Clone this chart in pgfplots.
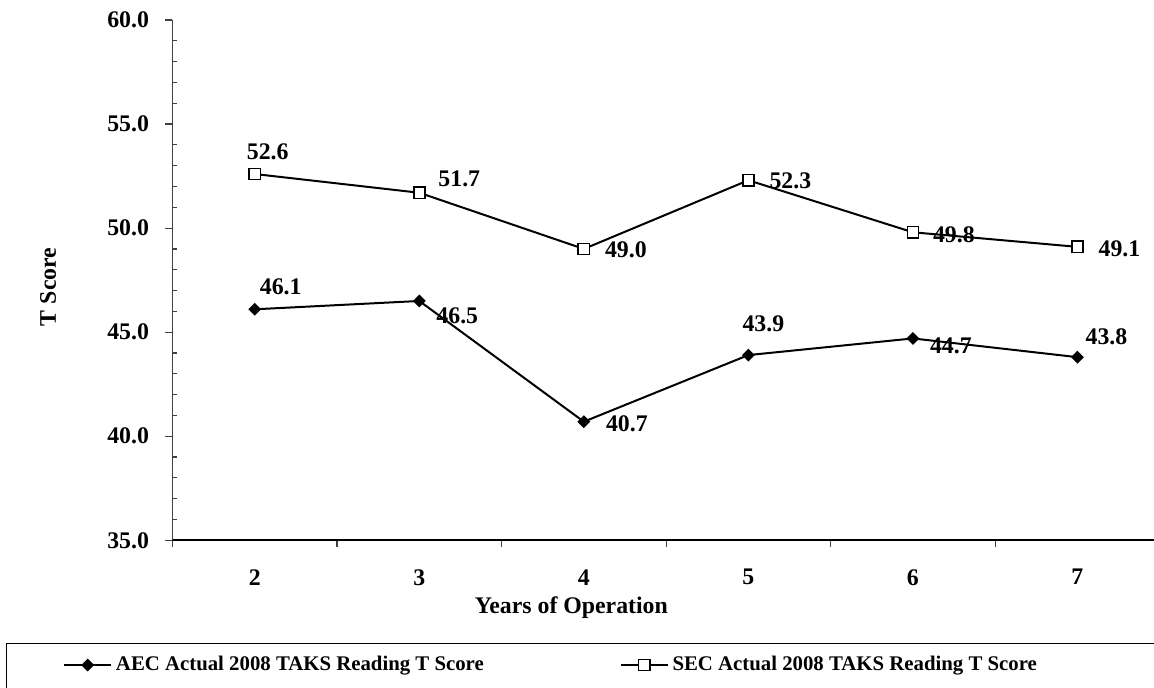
\documentclass[border=0pt]{standalone}
\usepackage{fontspec}
\setmainfont{Liberation Serif}
\usepackage{pgfplots}
\usepackage{pgfplotstable}
\pgfplotsset{compat=1.18}

\pgfplotstableread{
x y dx dy
2 46.1 13 11.5
3 46.5 19 -7.5
4 40.7 21.5 -1
5 43.9 7.5 15.5
6 44.7 19 -3.5
7 43.8 14.5 10
}\aecdata
\pgfplotstableread{
x y dx dy
2 52.6 6.5 11
3 51.7 20 7
4 49.0 21 -0.5
5 52.3 21 -0.5
6 49.8 20.5 -1
7 49.1 21 -1
}\secdata

\newcommand\lblfont{\bfseries\fontsize{11.9}{14}\selectfont}

\begin{document}
\begin{tikzpicture}
\begin{axis}[
  at={(0,0)}, anchor=south west,
  scale only axis, width=493.6pt, height=260.15pt,
  xmin=1.5, xmax=7.5, ymin=35, ymax=60,
  axis x line*=bottom, axis y line*=left,
  /pgf/number format/assume math mode=true,
  xtick={1.5,2.5,3.5,4.5,5.5,6.5,7.5}, xticklabels={},
  extra x ticks={2,3,4,5,6,7},
  extra x tick labels={2,3,4,5,6,7},
  extra x tick style={major tick length=0pt, xticklabel style={yshift=-11pt}},
  tick align=outside,
  major tick length=3.5pt,
  ytick={35,40,45,50,55,60},
  minor y tick num=4,
  minor tick length=2.5pt,
  minor tick style={xshift=2.5pt},
  yticklabel style={/pgf/number format/.cd, fixed, fixed zerofill, precision=1, /tikz/.cd, font=\lblfont, xshift=-4.75pt},
  xticklabel style={font=\lblfont},
  x axis line style={line width=0.9pt, black},
  y axis line style={line width=0.6pt, black!75},
  tick style={black!75, line width=0.6pt},
  xlabel={Years of Operation}, ylabel={T Score},
  xlabel style={font=\lblfont, at={(axis description cs:0.404,-0.130)}, anchor=center},
  ylabel style={font=\lblfont, at={(axis description cs:-0.126,0.487)}, anchor=center},
  legend columns=2,
  legend style={draw=none, fill=none, at={(axis description cs:-0.111,-0.2397)}, anchor=west,
    font=\bfseries\fontsize{10.4}{12}\selectfont,
    /tikz/every even column/.append style={column sep=66pt}, inner sep=0pt},
  legend image code/.code={\draw[mark repeat=2,mark phase=2,#1] plot coordinates {(0cm,0cm) (0.41cm,0cm) (0.82cm,0cm)};},
  point meta=y,
  nodes near coords={\pgfmathprintnumber[fixed,fixed zerofill,precision=1]{\pgfplotspointmeta}},
]
\addplot[black, line width=1pt, mark=square*, mark size=1.77pt,
  mark options={rotate=45, solid, fill=black},
  visualization depends on={\thisrow{dx}\as\dx},
  visualization depends on={\thisrow{dy}\as\dy},
  every node near coord/.append style={font=\lblfont, anchor=center, xshift=\dx pt, yshift=\dy pt, black}]
  table[x=x,y=y]{\aecdata};
\addlegendentry{AEC Actual 2008 TAKS Reading T Score}
\addplot[black, line width=1pt, mark=square*, mark size=2.8pt,
  mark options={solid, fill=white, line width=0.8pt},
  visualization depends on={\thisrow{dx}\as\dx},
  visualization depends on={\thisrow{dy}\as\dy},
  every node near coord/.append style={font=\lblfont, anchor=center, xshift=\dx pt, yshift=\dy pt, black}]
  table[x=x,y=y]{\secdata};
\addlegendentry{SEC Actual 2008 TAKS Reading T Score}
\end{axis}
\draw[line width=0.6pt] (-82.9pt,-51.5pt) rectangle (520pt,-95pt);
\pgfresetboundingbox
\path[use as bounding box] (-86.25pt,-73.35pt) rectangle (490.75pt,270.15pt);
\end{tikzpicture}
\end{document}
